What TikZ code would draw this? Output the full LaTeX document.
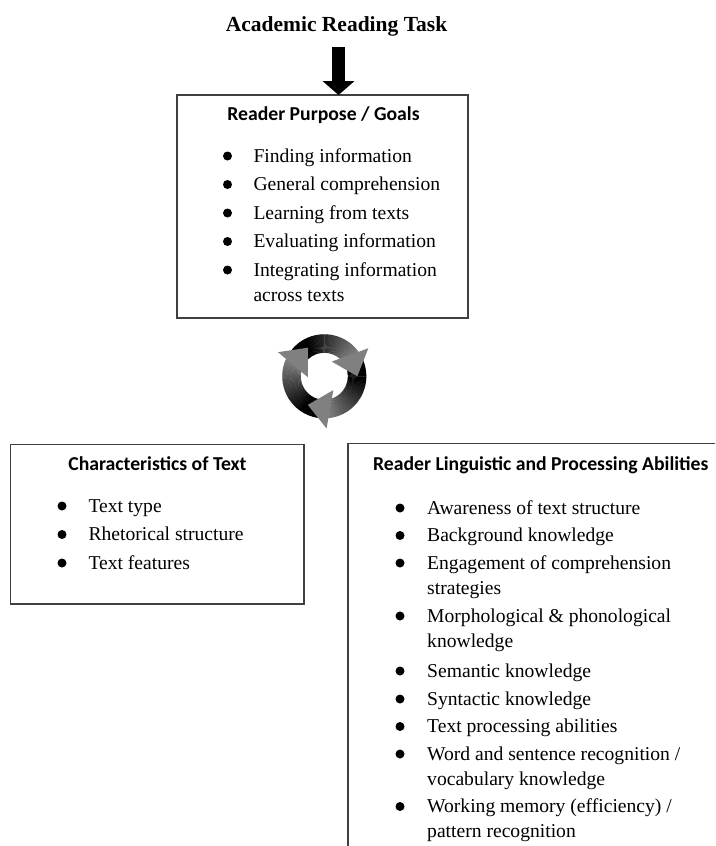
\documentclass[tikz,border=0pt]{standalone}
\usepackage{fontspec}
\setmainfont{Liberation Serif}
\newfontfamily\carlito{Carlito}
\usetikzlibrary{arrows.meta,calc}
\newcommand\bodyfnt{\fontsize{19.6}{23}\selectfont}
\newcommand\headfnt{\carlito\bfseries\fontsize{19.7}{23}\selectfont}
\newcommand\titlefnt{\bfseries\fontsize{21.5}{25}\selectfont}
\tikzset{
  boxframe/.style={rectangle, draw=black!75, line width=1.4pt, inner sep=0pt, outer sep=0pt, anchor=north west},
  boxhead/.style={font=\headfnt, anchor=base, inner sep=0pt},
  itemtext/.style={font=\bodyfnt, anchor=base west, inner sep=0pt},
  dot/.style={circle, fill=black, draw=none, inner sep=0pt, minimum size=9pt},
  ringhead/.style={fill=black!50},
  bigarrow/.style={line width=12.3pt, -{Triangle[length=14pt,width=32pt,line width=0pt]}},
}
% name, bullet x, text x, baseline y, text
\newcommand\bitem[5]{%
  \node[dot] (#1d) at (#2,{6-#4}) {};
  \node[itemtext] (#1) at (#3,{-#4}) {#5};}
% name, text x, baseline y, text (continuation line)
\newcommand\citem[4]{%
  \node[itemtext] (#1) at (#2,{-#3}) {#4};}
\begin{document}
\begin{tikzpicture}[x=1pt,y=1pt]
\useasboundingbox (0,0) rectangle (715,-846);
\clip (0,0) rectangle (715,-846);

% title and arrow
\node[font=\titlefnt, anchor=base, inner sep=0pt] (title) at (336.5,-31) {Academic Reading Task};
\coordinate (atop) at (338.5,-47);

% boxes
\node[boxframe, minimum width=291pt, minimum height=223pt] (rp) at (177,-95) {};
\node[boxframe, minimum width=293.7pt, minimum height=159.5pt] (ct) at (10.3,-444.5) {};
\node[boxframe, minimum width=420pt, minimum height=460pt] (rl) at (348,-443.5) {};

\draw[bigarrow] (atop) -- (atop |- rp.north);

% top box
\node[boxhead] (rph) at (323.5,-120) {Reader Purpose / Goals};
\bitem{p1}{227.5}{253.3}{162}{Finding information}
\bitem{p2}{227.5}{253.3}{190.5}{General comprehension}
\bitem{p3}{227.5}{253.3}{219}{Learning from texts}
\bitem{p4}{227.5}{253.3}{247.5}{Evaluating information}
\bitem{p5}{227.5}{253.3}{276}{Integrating information}
\citem{p5b}{253.3}{301}{across texts}

% left box
\node[boxhead] (cth) at (157.5,-470.5) {Characteristics of Text};
\bitem{c1}{62}{88.3}{512}{Text type}
\bitem{c2}{62}{88.3}{540.5}{Rhetorical structure}
\bitem{c3}{62}{88.3}{569}{Text features}

% right box
\node[boxhead] (rlh) at (540.8,-470.5) {Reader Linguistic and Processing Abilities};
\bitem{r1}{400}{427}{514}{Awareness of text structure}
\bitem{r2}{400}{427}{541.5}{Background knowledge}
\bitem{r3}{400}{427}{569}{Engagement of comprehension}
\citem{r3b}{427}{594}{strategies}
\bitem{r4}{400}{427}{622}{Morphological \& phonological}
\citem{r4b}{427}{647}{knowledge}
\bitem{r5}{400}{427}{677}{Semantic knowledge}
\bitem{r6}{400}{427}{705}{Syntactic knowledge}
\bitem{r7}{400}{427}{732.5}{Text processing abilities}
\bitem{r8}{400}{427}{760}{Word and sentence recognition /}
\citem{r8b}{427}{785}{vocabulary knowledge}
\bitem{r9}{400}{427}{812.5}{Working memory (efficiency) /}
\citem{r9b}{427}{837.5}{pattern recognition}

% cycle icon
\begin{scope}[shift={(324.3,-376.3)}]
  \foreach \a in {150,30,270} {
    \foreach \i in {0,...,57} {
      \pgfmathsetmacro\s{\a-2*\i}
      \pgfmathsetmacro\e{\a-2*\i-2.6}
      \pgfmathsetmacro\v{\i<16 ? 100 : 100-50*(\i-16)/41}
      \fill[black!\v] (\s:42) arc[start angle=\s, end angle=\e, radius=42]
        -- (\e:23.5) arc[start angle=\e, end angle=\s, radius=23.5] -- cycle;
    }
  }
  \foreach \b in {40,280,160} {
    \coordinate (hm) at (\b:33);
    \coordinate (ht) at (\b-40:33);
    \fill[ringhead] ($(hm)!20pt!90:(ht)$) -- (ht) -- ($(hm)!19pt!-90:(ht)$) -- cycle;
  }
\end{scope}
\end{tikzpicture}
\end{document}
